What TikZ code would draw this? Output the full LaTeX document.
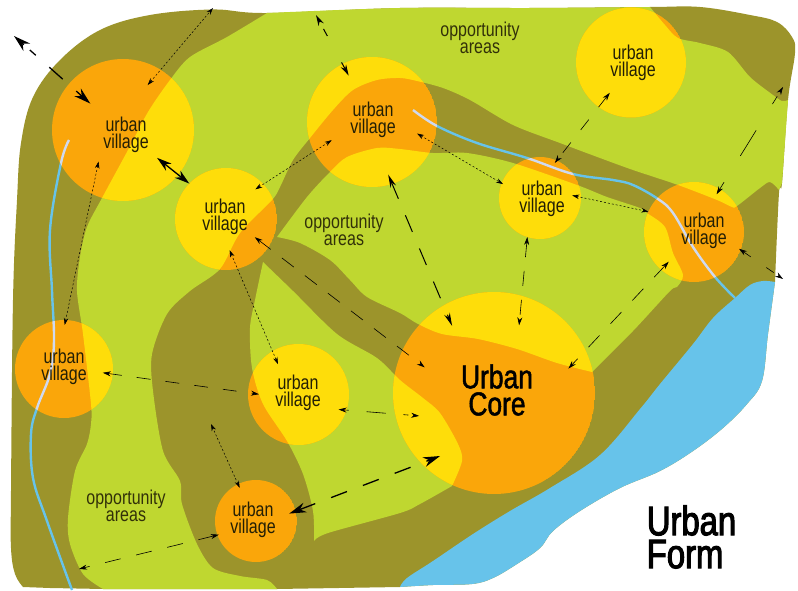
\documentclass[tikz,border=0pt]{standalone}
\usepackage{fontspec}
\setmainfont{Liberation Sans}[FakeStretch=0.8]
\newfontfamily\headfont{Liberation Sans}[FakeStretch=0.8,FakeBold=1.5]
\newfontfamily\titlefont{Liberation Sans}[FakeStretch=0.8,FakeBold=2.6]
\usetikzlibrary{arrows.meta,positioning}

\definecolor{landolive}{HTML}{9C942B}
\definecolor{areagreen}{HTML}{BFD730}
\definecolor{coreorange}{HTML}{FAA60A}
\definecolor{villyellow}{HTML}{FEDD0A}
\definecolor{waterblue}{HTML}{67C3EA}
\definecolor{riverpale}{HTML}{CFD9EF}
\definecolor{inkdark}{HTML}{231F05}

% the outer shore, shared by land and water
\newcommand{\coastline}{-- plot[smooth,tension=.6] coordinates {(775,282) (768,334) (762,381) (747,404) (723,428) (693,451) (660,471) (620,488) (580,511) (553,531) (540,548) (517,564) (493,578) (472,584) (433,585) (400,587)}}

% the three green areas
\newcommand{\greenareas}{
  plot[smooth,tension=.5] coordinates {(267,13) (400,8) (530,8) (650,7)}
  -- plot[smooth,tension=.5] coordinates {(650,7) (665,25) (678,38) (700,43) (728,52) (750,77) (773,95) (782,101) (788,100)}
  -- (782,183)
  -- plot[smooth,tension=.5] coordinates {(779,190) (770,182) (760,188) (737,206) (732,207) (717,200) (678,185) (633,170) (600,158) (560,143) (513,125) (470,100) (443,88) (417,81) (400,78) (377,80) (353,90) (333,110) (310,138) (293,160) (280,187) (272,200) (240,233) (220,269) (190,291) (167,314) (152,354) (153,391) (163,451) (180,481) (182,504) (197,544) (213,568) (240,576) (267,580) (277,589)}
  -- plot[smooth,tension=.5] coordinates {(103,589) (83,574) (70,544) (68,518) (75,471) (87,444) (91,424) (91,404) (83,334) (77,291) (80,257) (87,227) (102,198) (128,150) (148,112) (170,80) (190,57) (227,37) (267,13)}
  -- cycle
  plot[smooth,tension=.5] coordinates {(277,237) (300,243) (330,260) (350,280) (367,297) (400,313) (418,324) (442,334) (478,339) (517,349) (557,363) (592,372)}
  -- plot[smooth,tension=.5] coordinates {(592,372) (633,331) (670,291) (677,287) (683,275) (673,253) (665,227) (647,213) (640,208) (607,197) (577,185) (513,163) (467,153) (433,153) (400,149) (377,148) (347,157) (330,172) (307,197) (277,237)}
  -- cycle
  plot[smooth,tension=.5] coordinates {(263,262) (255,300) (250,328) (252,368) (263,404) (287,441) (303,474) (313,511) (314,541)}
  -- plot[smooth,tension=.5] coordinates {(314,541) (328,533) (400,513) (420,504) (452,486)}
  -- plot[smooth,tension=.5] coordinates {(452,486) (462,461) (458,444) (440,413) (423,398) (400,380) (377,358) (337,334) (293,291) (263,262)}
  -- cycle
}

\newcommand{\riverone}{plot[smooth,tension=.6] coordinates {(413,110) (437,126) (477,143) (527,158) (573,174) (613,180) (633,185) (658,199) (673,213) (693,247) (715,277) (735,298)}}
\newcommand{\rivertwo}{plot[smooth,tension=.6] coordinates {(69,140) (61,163) (50,230) (52,291) (54,341) (50,374) (37,408) (31,434) (33,478) (47,521) (72,590)}}

\tikzset{
  village/.style={circle, inner sep=0pt, outer sep=0pt},
  uvtext/.style={align=center, text=inkdark, font=\fontsize{20}{17}\selectfont},
  areatext/.style={align=center, text=inkdark!90!areagreen, font=\fontsize{20}{17}\selectfont},
  bigtext/.style={align=center, text=black, font=\headfont\fontsize{33}{27}\selectfont},
  titletext/.style={align=left, text=black, font=\titlefont\fontsize{41}{33}\selectfont},
  dotlink/.style={<->, >={Stealth[length=7pt,width=4.5pt]}, line width=.5pt, dash pattern=on 2pt off 2pt},
  dashlink/.style={<->, >={Stealth[length=8pt,width=5pt]}, line width=.6pt},
  midlink/.style={<->, >={Stealth[length=13pt,width=6pt]}, line width=1pt},
  boldlink/.style={<->, >={Stealth[length=17pt,width=10pt]}, line width=1.3pt},
}

\begin{document}
\begin{tikzpicture}[x=1pt,y=-1pt]
  \useasboundingbox (0,0) rectangle (798,591);

  % land, areas, water
  \fill[landolive] plot[smooth,tension=.6] coordinates {(23,587) (15,574) (11,548) (11,491) (13,300) (17,200) (21,143) (33,97) (60,60) (100,30) (150,15) (213,9.5) (267,13) (400,8) (530,8) (650,7) (700,7) (750,15) (777,22) (792,37) (795,53) (788,100) (782,183) (779,193) (775,282)}
    \coastline -- (277,589) -- (103,589) -- (50,588) -- cycle;
  \fill[areagreen] \greenareas;
  \fill[waterblue] plot[smooth,tension=.6] coordinates {(400,587) (407,578) (433,561) (473,534) (510,511) (550,488) (600,455) (640,409) (660,384) (693,344) (713,318) (735,298) (750,285) (763,281) (775,282)}
    \coastline -- cycle;
  \draw[waterblue, line width=2.4pt] \riverone;
  \draw[waterblue, line width=2.4pt] \rivertwo;

  % villages
  \foreach \nm/\cx/\cy/\rad/\tx/\ty in {
    A/123/130/71/126/134.5, B/226/219/51/225/216.5, C/372/122/65/373/119.5,
    D/631/62.5/55/633/63, E/540/198/41/542/198.5, F/694/232/50/704/231,
    G/64/369/49/64/366.5, H/298.5/394.5/50.5/298/392.5, I/256/521/41/253/519.5} {
    \begin{scope}
      \clip (\cx,\cy) circle (\rad);
      \fill[coreorange] (\cx,\cy) circle (\rad);
      \fill[villyellow] \greenareas;
      \draw[riverpale, line width=2.4pt] \riverone;
      \draw[riverpale, line width=2.4pt] \rivertwo;
    \end{scope}
    \node[village, minimum size={2*\rad pt}] (uv\nm) at (\cx,\cy) {};
    \node[uvtext] (tx\nm) at (\tx,\ty) {urban\\village};
  }

  % the core
  \begin{scope}
    \clip (494,393) circle (101);
    \fill[coreorange] (494,393) circle (101);
    \fill[villyellow] \greenareas;
  \end{scope}
  \node[village, minimum size=202pt] (uvCore) at (494,393) {};
  \node[bigtext] (txCore) at (497,390) {Urban\\Core};

  \node[areatext] (areaTop) at (480,38) {opportunity\\areas};
  \node[areatext] (areaMid) at (344,230) {opportunity\\areas};
  \node[areatext] (areaLow) at (126,506) {opportunity\\areas};
  \node[titletext] (title) at (691.5,537) {Urban\\Form};

  % free ends
  \coordinate (topA) at (213,8);
  \coordinate (cornerA) at (14,36);
  \coordinate (topC) at (316,15);
  \coordinate (eastUp) at (783,87);
  \coordinate (eastLow) at (783,279);
  \coordinate (midI) at (211,424);
  \coordinate (southI) at (79,569);

  % connectors
  \draw[dotlink, shorten <=-20pt] (uvA.58) -- (topA);
  \draw[dotlink, shorten <=-33pt, shorten >=-5pt] (uvA.244) -- (uvG.88);
  \draw[boldlink, dash pattern=on 8pt off 18pt on 18pt off 18pt on 8pt, shorten <=-29pt] (uvA.140) -- (cornerA);
  \draw[boldlink, >={Stealth[length=15pt,width=9pt]}, shorten <=-27pt] (uvA.-39) -- (uvB.136);
  \draw[dotlink, shorten <=-9.5pt, shorten >=-21pt] (uvB.43) -- (uvC.207);
  \draw[dashlink, dash pattern=on 15pt off 14pt, shorten <=-17pt, shorten >=-28pt] (uvB.-34) -- (uvCore.155);
  \draw[dotlink, shorten <=-20pt, shorten >=-14pt] (uvB.-77) -- (uvH.121);
  \draw[midlink, >={Stealth[length=11pt,width=6pt]}, line width=1pt, dash pattern=on 8pt off 30pt on 8pt, shorten <=-13pt] (uvC.117) -- (topC);
  \draw[midlink, dash pattern=on 18pt off 18pt, shorten <=-10pt, shorten >=-22pt] (uvC.-72) -- (uvCore.120);
  \draw[dotlink, shorten <=-19pt, shorten >=-1.5pt] (uvC.-19) -- (uvE.159);
  \draw[dashlink, dash pattern=on 13pt off 16pt, shorten <=-18pt, shorten >=-3pt] (uvD.234) -- (uvE.66);
  \draw[dotlink, shorten <=-9pt] (uvE.1) -- (uvF.156);
  \draw[dashlink, dash pattern=on 15pt off 14pt, shorten >=-29.5pt] (uvE.252) -- (uvCore.74.5);
  \draw[dashlink, dash pattern=on 16pt off 16pt, shorten <=-11pt, shorten >=-25pt] (uvF.229) -- (uvCore.25);
  \draw[dashlink, dash pattern=on 9pt off 31pt on 30pt off 31pt on 9pt, shorten <=-6pt] (uvF.59) -- (eastUp);
  \draw[dashlink, dash pattern=on 9pt off 19pt on 9pt, shorten <=-2pt] (uvF.-21) -- (eastLow);
  \draw[dashlink, dash pattern=on 14pt off 15pt, shorten <=-10pt, shorten >=-11pt] (uvG.-6) -- (uvH.178);
  \draw[dashlink, dash pattern=on 5pt off 18pt on 19pt off 18pt on 5pt, shorten <=-8pt, shorten >=-24pt] (uvH.-18) -- (uvCore.192);
  \draw[boldlink, dash pattern=on 17pt off 17pt, shorten <=-7pt, shorten >=-20pt] (uvI.14) -- (uvCore.224);
  \draw[dotlink, shorten <=-4pt] (uvI.116) -- (midI);
  \draw[dashlink, dash pattern=on 16pt off 16pt, shorten <=-1.4pt] (uvI.200) -- (southI);
\end{tikzpicture}
\end{document}
